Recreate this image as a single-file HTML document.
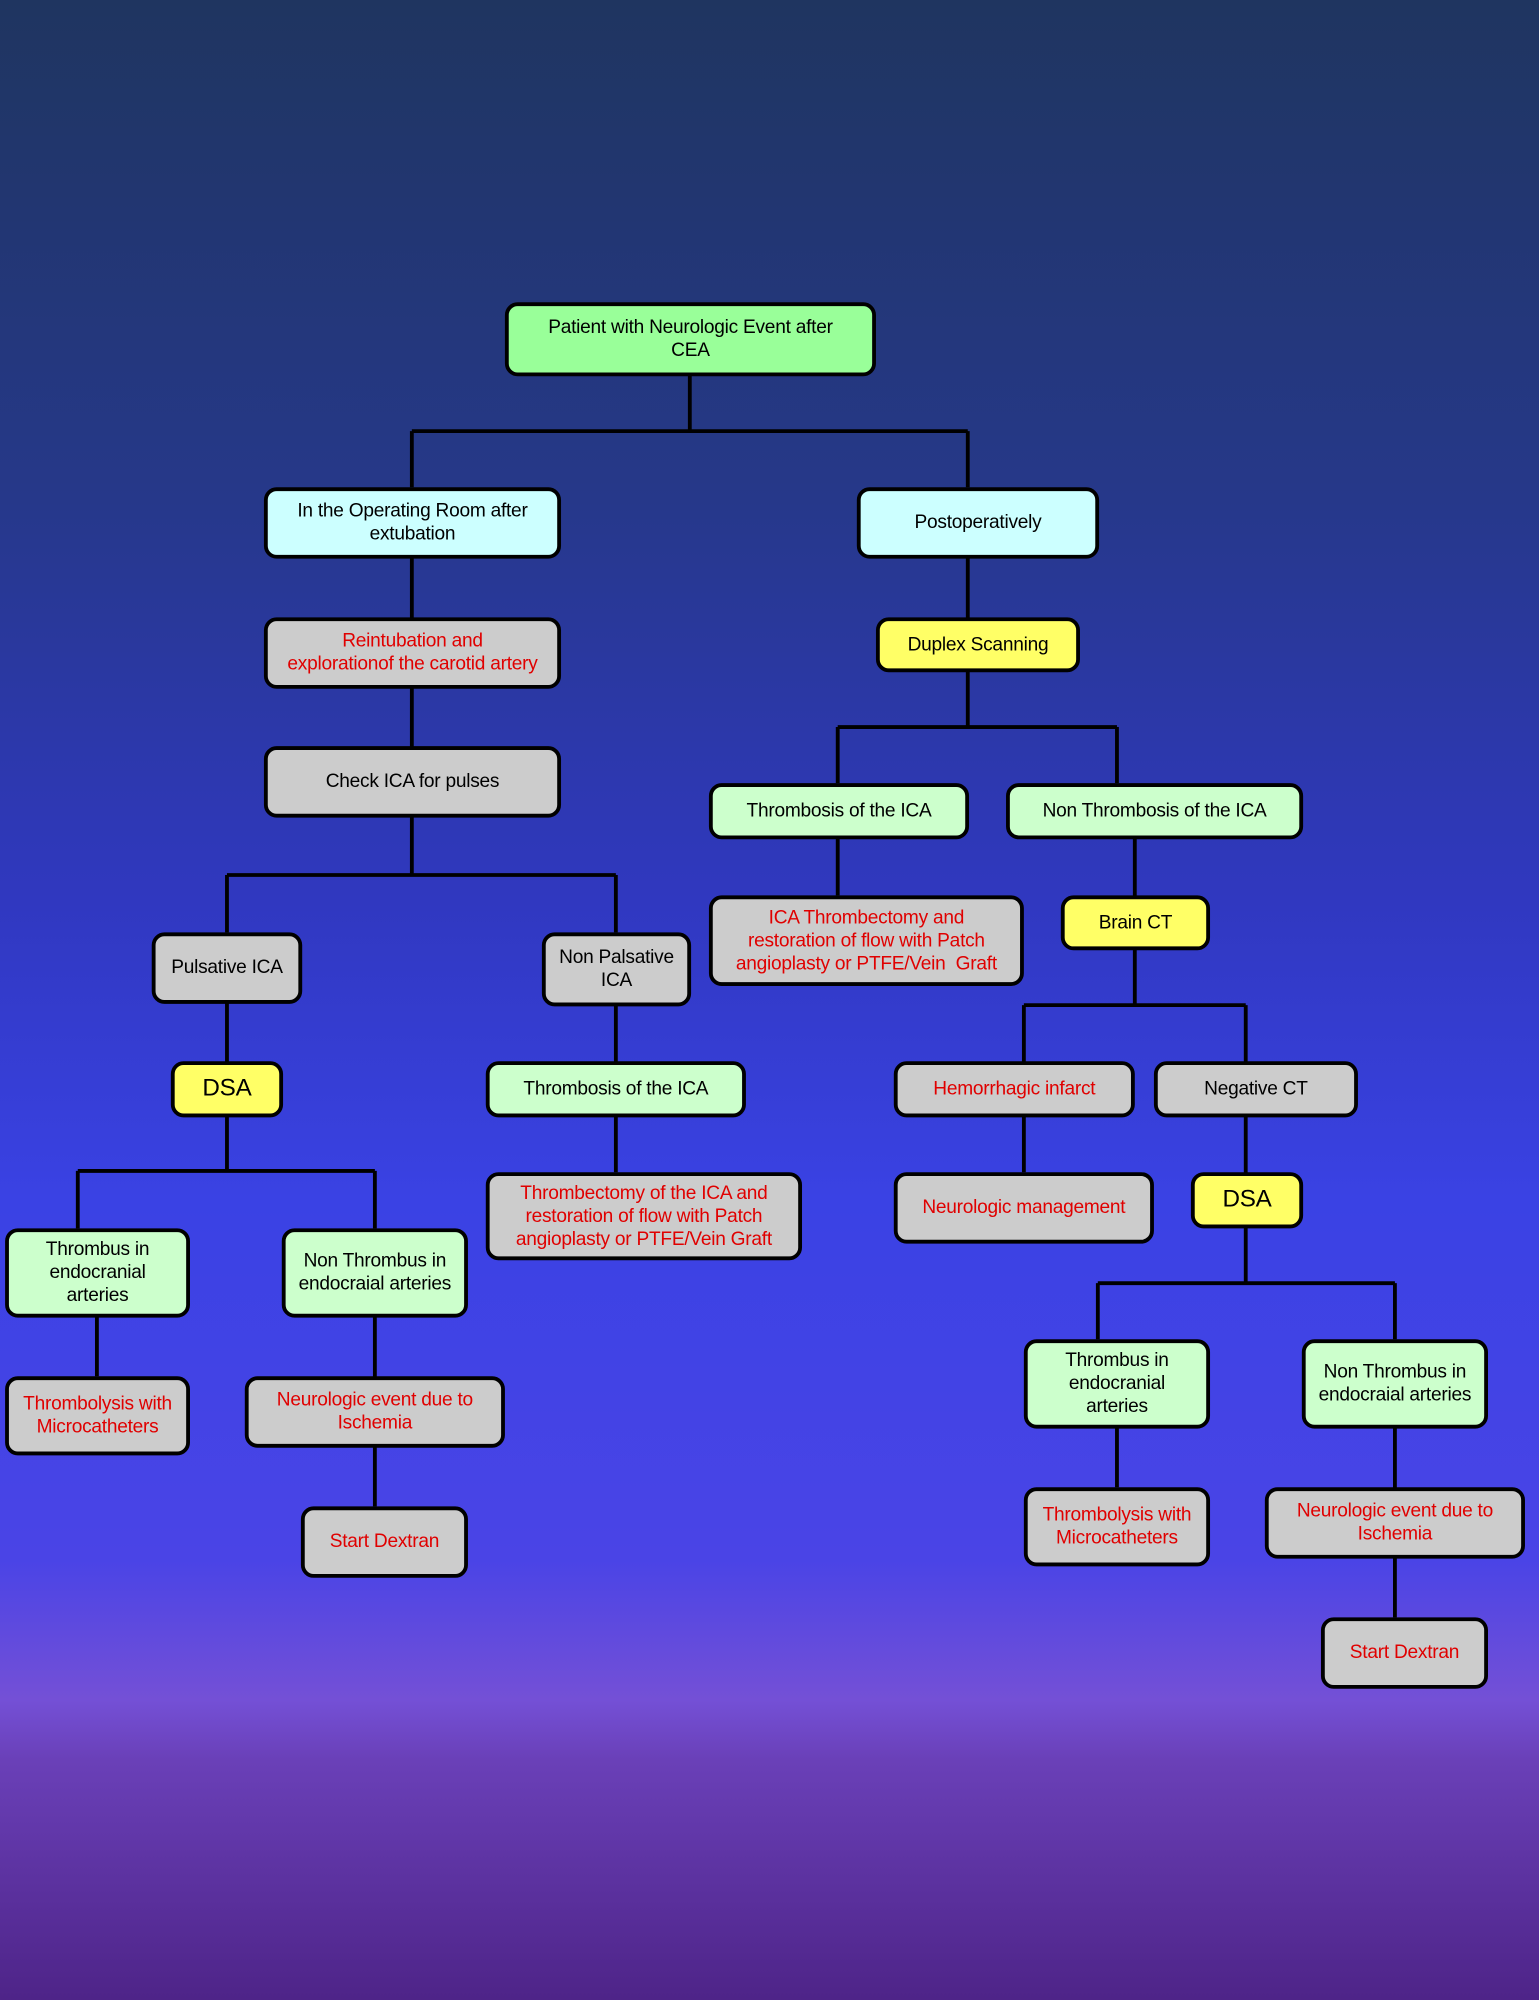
<!DOCTYPE html>
<html><head><meta charset="utf-8"><style>
html,body{margin:0;padding:0;}
body{width:1539px;height:2000px;overflow:hidden;background:linear-gradient(180deg,#1f3560 0%,#26388a 25%,#3038c0 45%,#3a42e4 60%,#4a44e6 78%,#7450d6 85%,#6a40b8 88%,#4e2488 100%);font-family:"Liberation Sans",Arial,sans-serif;}
#c{position:absolute;left:0;top:0;width:1207px;height:1568px;transform:scale(1.27506,1.27551);transform-origin:0 0;}
.b{position:absolute;box-sizing:border-box;border:3px solid #000;border-radius:10px;display:flex;align-items:center;justify-content:center;text-align:center;font-size:15px;line-height:18px;color:#000;padding:0 2px;white-space:nowrap;letter-spacing:-0.2px;}
.g{background:#99ff99}.c{background:#ccffff}.y{background:#ffff66}.l{background:#ccffcc}.s{background:#cccccc}.r{color:#e00000}
svg{position:absolute;left:0;top:0}
</style></head><body><div id="c">
<svg width="1207" height="1568"><g stroke="#000" stroke-width="3" fill="none">
<path d="M541 294V338M323 338H759M323 338V382M759 338V382"/>
<path d="M323 437V686M178 686H483M178 686V731M483 686V731"/>
<path d="M178 786V918M61 918H294M61 918V963M294 918V963M76 1032V1079M294 1032V1181"/>
<path d="M483 788V919"/>
<path d="M759 437V570M657 570H876M657 570V614M876 570V614M657 657V702M890 657V788M803 788H977M803 788V919M977 788V1006M861 1006H1094M861 1006V1050M1094 1006V1050M876 1119V1166M1094 1119V1268"/>
</g></svg>
<div class="b g" style="left:396px;top:237px;width:291px;height:58px">Patient with Neurologic Event after<br>CEA</div>
<div class="b c" style="left:207px;top:382px;width:233px;height:56px">In the Operating Room after<br>extubation</div>
<div class="b c" style="left:672px;top:382px;width:190px;height:56px">Postoperatively</div>
<div class="b s r" style="left:207px;top:484px;width:233px;height:56px">Reintubation and<br>explorationof the carotid artery</div>
<div class="b y" style="left:687px;top:484px;width:160px;height:43px">Duplex Scanning</div>
<div class="b s" style="left:207px;top:585px;width:233px;height:56px">Check ICA for pulses</div>
<div class="b l" style="left:556px;top:614px;width:204px;height:44px">Thrombosis of the ICA</div>
<div class="b l" style="left:789px;top:614px;width:233px;height:44px">Non Thrombosis of the ICA</div>
<div class="b s" style="left:119px;top:731px;width:118px;height:56px">Pulsative ICA</div>
<div class="b s" style="left:425px;top:731px;width:117px;height:58px">Non Palsative<br>ICA</div>
<div class="b s r" style="left:556px;top:702px;width:247px;height:71px">ICA Thrombectomy and<br>restoration of flow with Patch<br>angioplasty or PTFE/Vein&nbsp; Graft</div>
<div class="b y" style="left:832px;top:702px;width:117px;height:43px">Brain CT</div>
<div class="b y" style="left:134px;top:832px;width:88px;height:44px;font-size:19px">DSA</div>
<div class="b l" style="left:381px;top:832px;width:204px;height:44px">Thrombosis of the ICA</div>
<div class="b s r" style="left:701px;top:832px;width:189px;height:44px">Hemorrhagic infarct</div>
<div class="b s" style="left:905px;top:832px;width:160px;height:44px">Negative CT</div>
<div class="b s r" style="left:381px;top:919px;width:248px;height:69px">Thrombectomy of the ICA and<br>restoration of flow with Patch<br>angioplasty or PTFE/Vein Graft</div>
<div class="b s r" style="left:701px;top:919px;width:204px;height:56px">Neurologic management</div>
<div class="b y" style="left:934px;top:919px;width:88px;height:44px;font-size:19px">DSA</div>
<div class="b l" style="left:4px;top:963px;width:145px;height:70px">Thrombus in<br>endocranial<br>arteries</div>
<div class="b l" style="left:221px;top:963px;width:146px;height:70px">Non Thrombus in<br>endocraial arteries</div>
<div class="b s r" style="left:4px;top:1079px;width:145px;height:62px">Thrombolysis with<br>Microcatheters</div>
<div class="b s r" style="left:192px;top:1079px;width:204px;height:56px">Neurologic event due to<br>Ischemia</div>
<div class="b s r" style="left:236px;top:1181px;width:131px;height:56px">Start Dextran</div>
<div class="b l" style="left:803px;top:1050px;width:146px;height:70px">Thrombus in<br>endocranial<br>arteries</div>
<div class="b l" style="left:1021px;top:1050px;width:146px;height:70px">Non Thrombus in<br>endocraial arteries</div>
<div class="b s r" style="left:803px;top:1166px;width:146px;height:62px">Thrombolysis with<br>Microcatheters</div>
<div class="b s r" style="left:992px;top:1166px;width:204px;height:56px">Neurologic event due to<br>Ischemia</div>
<div class="b s r" style="left:1036px;top:1268px;width:131px;height:56px">Start Dextran</div>
</div></body></html>
